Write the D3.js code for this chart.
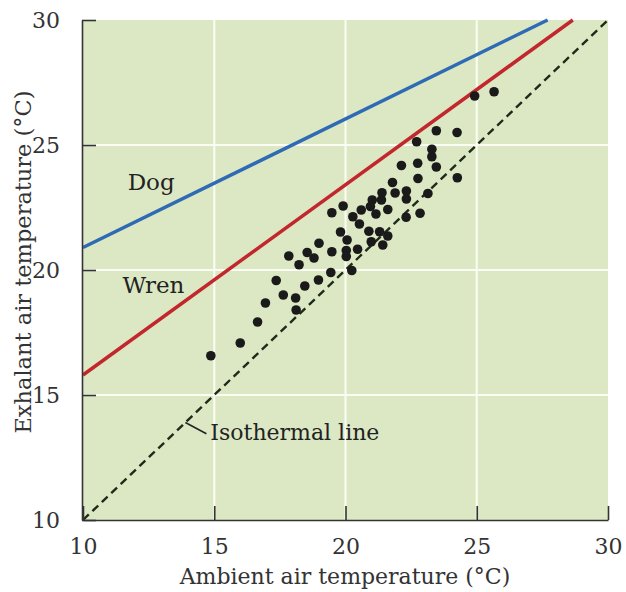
<!DOCTYPE html>
<html>
<head>
<meta charset="utf-8">
<script src="https://cdn.jsdelivr.net/npm/d3@7"></script>
<style>
  body { margin: 0; background: #fff; }
  svg { display: block; font-family: 'DejaVu Serif', serif; }
</style>
</head>
<body>
<svg></svg>
<script>
const w = 626;
const h = 592;

// tick values
const xTicks = [10, 15, 20, 25, 30];
const yTicks = [10, 15, 20, 25, 30];
const gridVals = [15, 20, 25];

// measured birds (ambient vs exhalant, °C)
const ambient = [
  14.87, 15.99, 16.65, 16.95, 17.36, 17.63, 18.10, 18.12, 18.45, 17.84,
  18.23, 18.54, 18.80, 18.99, 18.97, 19.44, 19.48, 19.81, 20.06, 20.03,
  20.03, 20.46, 20.24, 19.91, 19.48, 21.02, 21.37, 20.95, 20.60, 20.28,
  21.16, 21.61, 22.31, 22.84, 20.53, 20.89, 21.30, 20.98, 21.61, 21.42,
  21.39, 21.89, 22.32, 22.32, 23.14, 21.79, 22.13, 22.76, 23.46, 22.75,
  24.26, 23.29, 23.29, 22.71, 23.46, 24.25, 24.92, 25.66
];
const exhalant = [
  16.57, 17.08, 17.92, 18.68, 19.58, 19.00, 18.88, 18.40, 19.36, 20.56,
  20.21, 20.70, 20.48, 21.07, 19.60, 19.90, 20.73, 21.52, 21.20, 20.78,
  20.54, 20.83, 19.98, 22.56, 22.29, 22.80, 22.80, 22.54, 22.40, 22.13,
  22.24, 22.42, 22.11, 22.27, 21.84, 21.55, 21.53, 21.13, 21.36, 21.00,
  23.09, 23.08, 23.16, 22.84, 23.06, 23.50, 24.18, 23.66, 24.12, 24.27,
  23.69, 24.83, 24.53, 25.13, 25.57, 25.50, 26.96, 27.13
];

// reference lines (endpoints)
const dogLine = [[10, 20.9], [27.7, 30]];
const wrenLine = [[10, 15.8], [28.66, 30]];
const isoLine = [[10, 10], [30, 30]];

const svg = d3.select('svg').attr('width', w).attr('height', h);

const xScale = d3.scaleLinear().domain([10, 30]).range([83, 608]);
const yScale = d3.scaleLinear().domain([10, 30]).range([520, 20]);

// plot background
svg.append('rect')
  .attr('x', xScale(10) - 1)
  .attr('y', yScale(30))
  .attr('width', xScale(30) - xScale(10) + 1)
  .attr('height', yScale(10) - yScale(30))
  .attr('fill', '#dce8c4');

// white grid
svg.append('g').selectAll('line.gx')
  .data(gridVals).enter().append('line')
  .attr('x1', d => xScale(d)).attr('x2', d => xScale(d))
  .attr('y1', yScale(30)).attr('y2', yScale(10))
  .attr('stroke', '#fbfdf5').attr('stroke-width', 2);
svg.append('g').selectAll('line.gy')
  .data(gridVals).enter().append('line')
  .attr('y1', d => yScale(d)).attr('y2', d => yScale(d))
  .attr('x1', xScale(10)).attr('x2', xScale(30))
  .attr('stroke', '#fbfdf5').attr('stroke-width', 2);

const line = d3.line().x(d => xScale(d[0])).y(d => yScale(d[1]));

svg.append('path').datum(isoLine).attr('d', line)
  .attr('fill', 'none').attr('stroke', '#1e2a1a')
  .attr('stroke-width', 2.4).attr('stroke-dasharray', '8,5');
svg.append('path').datum(dogLine).attr('d', line)
  .attr('fill', 'none').attr('stroke', '#2f6bb5').attr('stroke-width', 3.5);
svg.append('path').datum(wrenLine).attr('d', line)
  .attr('fill', 'none').attr('stroke', '#c1272d').attr('stroke-width', 3.5);

// dots
svg.append('g').selectAll('circle')
  .data(ambient).enter().append('circle')
  .attr('cx', d => xScale(d))
  .attr('cy', (d, i) => yScale(exhalant[i]))
  .attr('r', 4.8)
  .attr('fill', '#1a1a1a');

// axes
const xAxis = d3.axisBottom(xScale).tickValues(xTicks)
  .tickSizeInner(-14).tickSizeOuter(0).tickPadding(18);
const gx = svg.append('g')
  .attr('transform', `translate(0,${yScale(10)})`).call(xAxis);
const yAxis = d3.axisLeft(yScale).tickValues(yTicks)
  .tickSizeInner(-14).tickSizeOuter(0).tickPadding(22);
const gy = svg.append('g')
  .attr('transform', `translate(${xScale(10) - 1},0)`).call(yAxis);

[gx, gy].forEach(g => {
  g.selectAll('path, line').attr('stroke', '#333').attr('stroke-width', 1.6);
  g.selectAll('text')
    .style('font-family', 'DejaVu Serif')
    .style('font-size', '22px')
    .attr('fill', '#333');
});

// axis titles
svg.append('text')
  .attr('x', 345).attr('y', 584)
  .attr('text-anchor', 'middle')
  .style('font-size', '22px').attr('fill', '#333')
  .text('Ambient air temperature (°C)');
svg.append('text')
  .attr('transform', 'translate(31,262) rotate(-90)')
  .attr('text-anchor', 'middle')
  .style('font-size', '22.5px').attr('fill', '#333')
  .text('Exhalant air temperature (°C)');

// line labels
svg.append('text')
  .attr('x', xScale(11.7)).attr('y', yScale(23.2))
  .style('font-size', '23px').attr('fill', '#222')
  .text('Dog');
svg.append('text')
  .attr('x', xScale(11.5)).attr('y', yScale(19.1))
  .style('font-size', '23px').attr('fill', '#222')
  .text('Wren');

svg.append('line')
  .attr('x1', xScale(13.9)).attr('y1', yScale(13.9))
  .attr('x2', xScale(14.7)).attr('y2', yScale(13.45))
  .attr('stroke', '#222').attr('stroke-width', 1.5);
svg.append('text')
  .attr('x', xScale(14.85)).attr('y', yScale(13.2))
  .style('font-size', '22px').attr('fill', '#222')
  .text('Isothermal line');
</script>
</body>
</html>
